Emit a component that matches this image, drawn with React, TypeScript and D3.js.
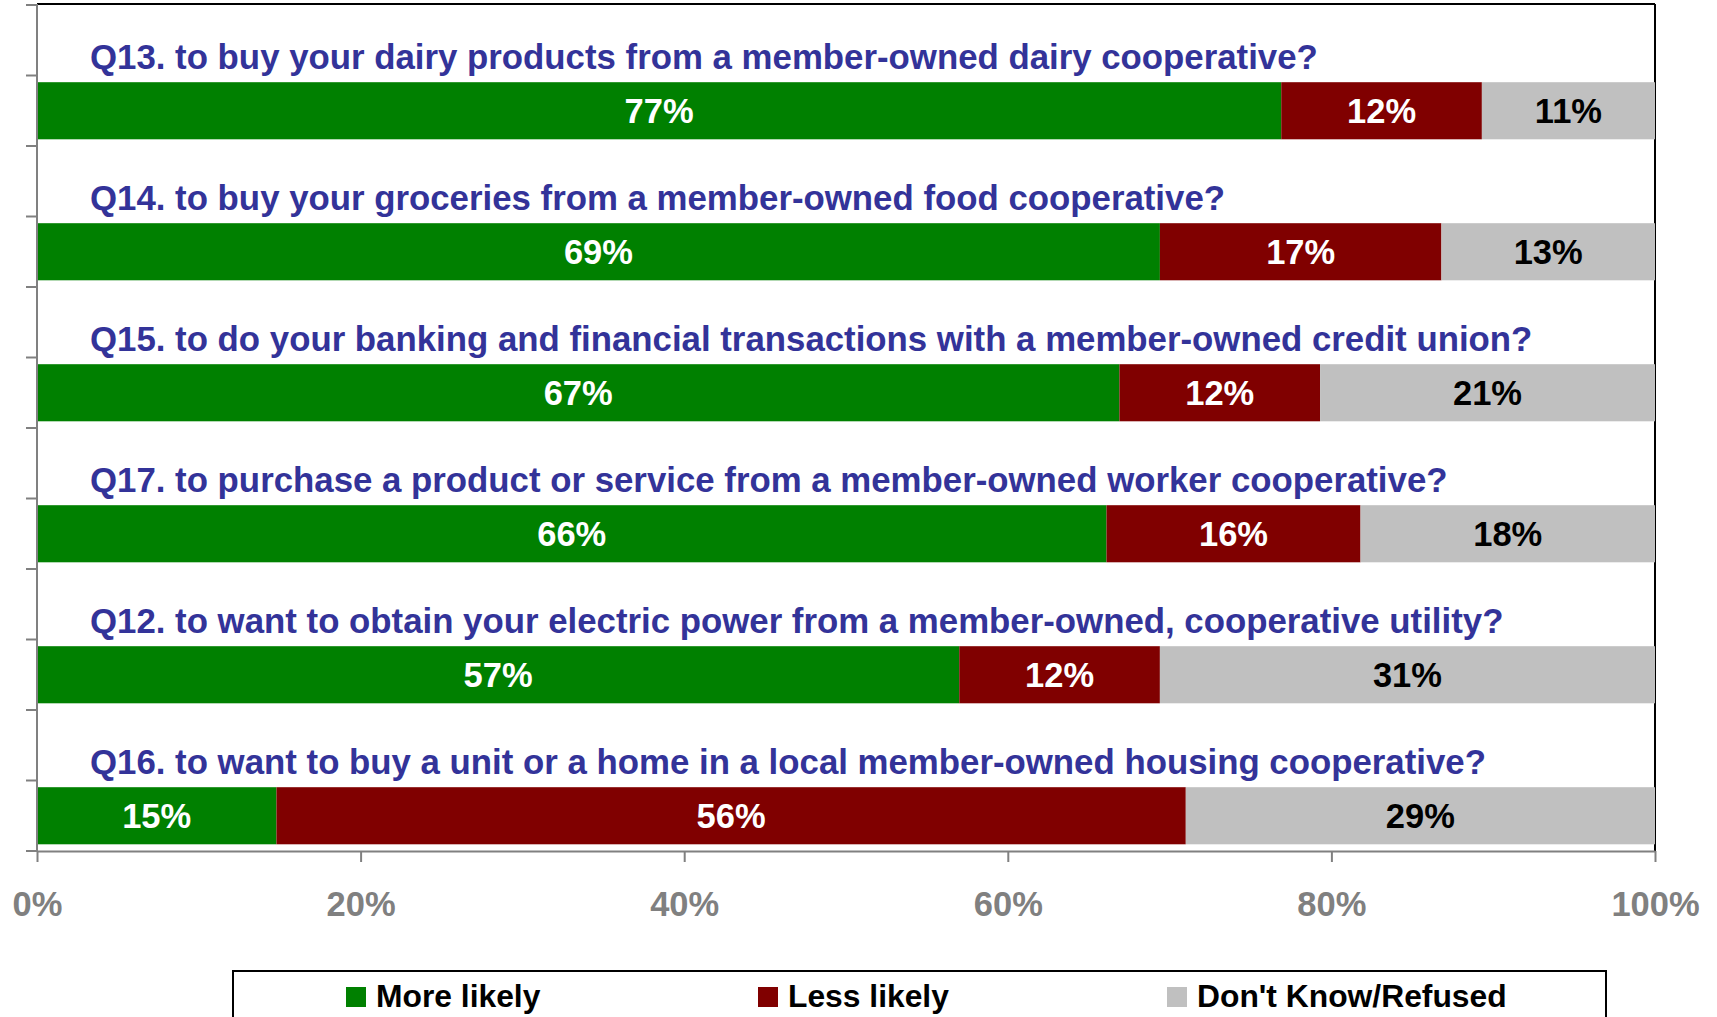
import * as d3 from 'd3'
import { useEffect, useRef } from 'react'

// questions, top to bottom
const questions = [
  'Q13. to buy your dairy products from a member-owned dairy cooperative?',
  'Q14. to buy your groceries from a member-owned food cooperative?',
  'Q15. to do your banking and financial transactions with a member-owned credit union?',
  'Q17. to purchase a product or service from a member-owned worker cooperative?',
  'Q12. to want to obtain your electric power from a member-owned, cooperative utility?',
  'Q16. to want to buy a unit or a home in a local member-owned housing cooperative?',
]
const seriesNames = ['More likely', 'Less likely', "Don't Know/Refused"]
const moreLikely = [76.9, 69.4, 66.9, 66.1, 57.0, 14.8]
const lessLikely = [12.4, 17.4, 12.4, 15.7, 12.4, 56.2]
const dontKnow = [10.7, 13.2, 20.7, 18.2, 30.6, 29.0]
const xTicks = [0, 20, 40, 60, 80, 100]

const colors = ['#008000', '#800000', '#C0C0C0']
const labelColors = ['#ffffff', '#ffffff', '#000000']
const FONT = '"Liberation Sans", Arial, sans-serif'

const App = () => {
  const ref = useRef(null)

  useEffect(() => {
    const svg = d3.select(ref.current)
    svg.selectAll('*').remove()

    const left = 37
    const right = 1655
    const top = 5
    const bottom = 851

    const x = d3.scaleLinear().domain([0, 100]).range([left, right])
    // every question takes two rows: one for its label, one for its bar
    const rows = d3.range(questions.length * 2)
    const y = d3.scaleBand().domain(rows).range([top, bottom]).paddingInner(0.19).paddingOuter(0.095)
    const rowStep = y.step()

    const table = questions.map((q, i) => ({
      q,
      values: [moreLikely[i], lessLikely[i], dontKnow[i]],
    }))
    const stack = d3.stack().keys([0, 1, 2]).value((d, k) => d.values[k])(table)

    // frame
    svg.append('line').attr('x1', left).attr('x2', right).attr('y1', top - 1).attr('y2', top - 1)
      .attr('stroke', '#000').attr('stroke-width', 2)
    svg.append('line').attr('x1', right).attr('x2', right).attr('y1', top - 1).attr('y2', bottom)
      .attr('stroke', '#000').attr('stroke-width', 2)

    // bars
    stack.forEach((layer, k) => {
      const g = svg.append('g')
      g.selectAll('rect')
        .data(layer)
        .join('rect')
        .attr('x', (d) => x(d[0]))
        .attr('y', (d, i) => y(i * 2 + 1))
        .attr('width', (d) => x(d[1]) - x(d[0]))
        .attr('height', y.bandwidth())
        .attr('fill', colors[k])
      g.selectAll('text')
        .data(layer)
        .join('text')
        .attr('x', (d) => (x(d[0]) + x(d[1])) / 2)
        .attr('y', (d, i) => y(i * 2 + 1) + y.bandwidth() / 2)
        .attr('dy', '0.36em')
        .attr('text-anchor', 'middle')
        .attr('fill', labelColors[k])
        .style('font', `bold 34.5px ${FONT}`)
        .text((d) => Math.round(d[1] - d[0]) + '%')
    })

    // question labels
    svg.append('g')
      .selectAll('text')
      .data(questions)
      .join('text')
      .attr('x', 90)
      .attr('y', (d, i) => top + rowStep * (i * 2) + rowStep - 7)
      .attr('fill', '#333399')
      .style('font', `bold 34.8px ${FONT}`)
      .text((d) => d)

    // left axis with ticks between rows
    const yAxis = svg.append('g')
    yAxis.append('line').attr('x1', left).attr('x2', left).attr('y1', top - 1).attr('y2', bottom)
      .attr('stroke', '#808080').attr('stroke-width', 2)
    yAxis.selectAll('line.tick')
      .data(d3.range(rows.length + 1))
      .join('line')
      .attr('class', 'tick')
      .attr('x1', left - 11)
      .attr('x2', left)
      .attr('y1', (d) => top + d * rowStep)
      .attr('y2', (d) => top + d * rowStep)
      .attr('stroke', '#808080')
      .attr('stroke-width', 2)

    // bottom axis
    const xAxis = svg.append('g').attr('transform', `translate(0, ${bottom})`)
      .call(d3.axisBottom(x).tickValues(xTicks).tickSize(11).tickSizeOuter(0).tickFormat((d) => d + '%'))
    xAxis.select('.domain').attr('stroke', '#808080').attr('stroke-width', 2)
    xAxis.selectAll('.tick line').attr('stroke', '#808080').attr('stroke-width', 2)
    xAxis.selectAll('.tick text')
      .attr('fill', '#808080')
      .attr('y', 53)
      .attr('dy', '0.36em')
      .style('font', `bold 34.5px ${FONT}`)

    // legend
    const legend = svg.append('g')
    legend.append('rect').attr('x', 233).attr('y', 971).attr('width', 1373).attr('height', 60)
      .attr('fill', 'none').attr('stroke', '#000').attr('stroke-width', 2)
    const legendX = [346, 758, 1167]
    seriesNames.forEach((name, k) => {
      legend.append('rect').attr('x', legendX[k]).attr('y', 987).attr('width', 20).attr('height', 20)
        .attr('fill', colors[k])
      legend.append('text').attr('x', legendX[k] + 30).attr('y', 1007)
        .attr('fill', '#000')
        .style('font', `bold 31.8px ${FONT}`)
        .text(name)
    })
  }, [])

  return (
    <svg
      ref={ref}
      width={1717}
      height={1017}
      style={{ position: 'absolute', left: 0, top: 0, background: '#fff' }}
    ></svg>
  )
}
export default App
